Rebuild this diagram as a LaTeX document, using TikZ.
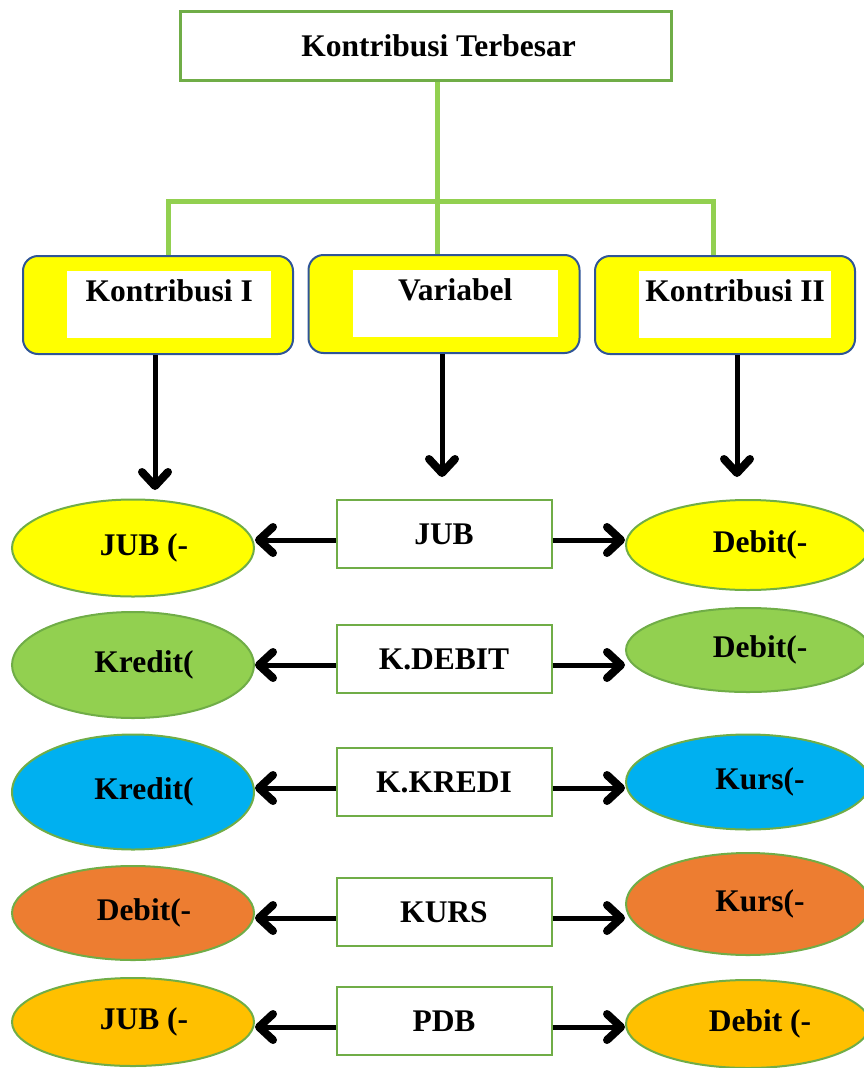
\documentclass[tikz,border=0pt]{standalone}
\usepackage{fontspec}
\setmainfont{Liberation Serif}
\usetikzlibrary{arrows.meta,positioning,shapes.geometric}
\definecolor{boxgreen}{RGB}{112,173,71}
\definecolor{linkgreen}{RGB}{146,208,80}
\definecolor{boxblue}{RGB}{47,85,151}
\definecolor{yellowfill}{RGB}{255,255,0}
\definecolor{cyanfill}{RGB}{0,176,240}
\definecolor{orangefill}{RGB}{237,125,49}
\definecolor{goldfill}{RGB}{255,192,0}

\begin{document}
\begin{tikzpicture}[x=1pt,y=-1pt,
   every node/.style={font=\fontsize{31.5}{36}\selectfont\bfseries},
   topbox/.style={draw=boxgreen,line width=3pt,minimum width=491pt,minimum height=69pt},
   ybox/.style={draw=boxblue,line width=2pt,fill=yellowfill,rounded corners=15pt,minimum height=98pt},
   wbox/.style={fill=white,inner sep=0pt,text height=30pt,text depth=37pt},
   mbox/.style={draw=boxgreen,line width=2pt,fill=white,minimum width=215pt,minimum height=68pt,inner sep=0pt},
   oval/.style={ellipse,draw=boxgreen,line width=2pt,inner sep=0pt},
   link/.style={linkgreen,line width=5pt},
   arr/.style={line width=5pt,-{Straight Barb[length=14pt,width=26pt,line width=8pt,round]}}]
  \useasboundingbox (0,0) rectangle (864,1068);
  \clip (0,0) rectangle (864,1068);

  % header and the three yellow boxes
  \node[topbox] (top) at (426,46) {\hspace*{25pt}Kontribusi Terbesar};
  \node[ybox,minimum width=270pt] (k1) at (158,305) {};
  \node[ybox,minimum width=271pt] (var) at (444,304) {};
  \node[ybox,minimum width=260pt] (k2) at (725,305) {};
  \node[wbox,minimum width=204pt,below right=16pt and 45pt of k1.north west] (k1t) {Kontribusi I};
  \node[wbox,minimum width=205pt,below right=16pt and 45pt of var.north west] (vart) {Variabel};
  \node[wbox,minimum width=192pt,below right=16pt and 45pt of k2.north west] (k2t) {Kontribusi II};

  % green tree lines
  \coordinate (bus) at (437,201);
  \coordinate (bl) at (168,201);
  \coordinate (br) at (713,201);
  \draw[link] (top.south -| bus) -- (bus) -- (var.north -| bus);
  \draw[link] (k1.north -| bl) -- (bl) -- (br) -- (k2.north -| br);

  % down arrows
  \coordinate (d1) at (155,490);
  \coordinate (d2) at (442,477);
  \coordinate (d3) at (737,477);
  \draw[arr] (k1.south -| d1) -- (d1);
  \draw[arr] (var.south -| d2) -- (d2);
  \draw[arr] (k2.south -| d3) -- (d3);

  % rows: left oval, variable box, right oval
  \foreach \n/\yl/\hl/\ym/\yr/\hr/\col/\lt/\mt/\rt in {
      1/548/97/534/545/90/yellowfill/{JUB (-}/{JUB}/{Debit(-},
      2/665/106/659/650/84/linkgreen/{Kredit(}/{K.DEBIT}/{Debit(-},
      3/792/115/782/782/95/cyanfill/{Kredit(}/{K.KREDI}/{Kurs(-},
      4/913/94/912/904/102/orangefill/{Debit(-}/{KURS}/{Kurs(-},
      5/1022/88/1021/1024/88/goldfill/{JUB (-}/{PDB}/{Debit (-}}{
    \node[oval,fill=\col,minimum width=242pt,minimum height=\hl pt] (l\n) at (133,\yl) {\hspace*{22pt}\lt};
    \node[mbox] (m\n) at (444,\ym) {\mt};
    \node[oval,fill=\col,minimum width=244pt,minimum height=\hr pt] (r\n) at (748,\yr) {\hspace*{24pt}\rt};
    \draw[arr] ([yshift=-6pt]m\n.west) -- ([yshift=-6pt]m\n.west -| l\n.east);
    \draw[arr] ([yshift=-6pt]m\n.east) -- ([yshift=-6pt]m\n.east -| r\n.west);
  }
\end{tikzpicture}
\end{document}
